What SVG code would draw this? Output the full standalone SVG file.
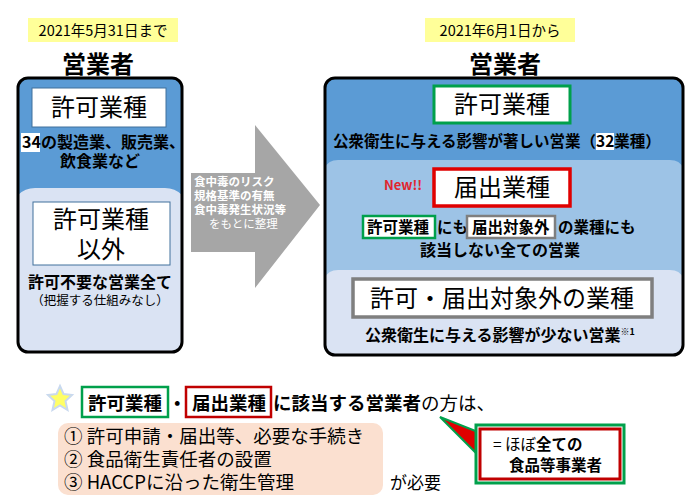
<svg xmlns="http://www.w3.org/2000/svg" width="697" height="500" viewBox="0 0 697 500">
<style>
text{font-family:"Noto Sans CJK JP","Noto Sans",sans-serif;fill:#000}
.b{font-weight:bold}
.big{font-size:24px}
.mid{font-size:16px;font-weight:bold}
.wb{fill:#fff}
</style>
<defs><clipPath id="cl"><rect x="18" y="78" width="164" height="274" rx="10"/></clipPath>
<clipPath id="cr"><rect x="325" y="78" width="358" height="277" rx="10"/></clipPath></defs>
<rect width="697" height="500" fill="#fff"/>
<g id="left">
<rect x="28" y="18" width="150" height="24" fill="#ffff99"/>
<text x="103" y="36" font-size="14.5" text-anchor="middle">2021年5月31日まで</text>
<text x="98" y="73" font-size="24" class="b" text-anchor="middle">営業者</text>
<g clip-path="url(#cl)"><rect x="18" y="78" width="164" height="274" fill="#dae3f3"/>
<path d="M18 78H182V195Q175 188 165 188H35Q25 188 18 195Z" fill="#5b9bd5"/></g>
<rect x="18" y="78" width="164" height="274" rx="10" fill="none" stroke="#000" stroke-width="3"/>
<rect x="32" y="88" width="134" height="39" fill="#fff" stroke="#41719c"/>
<text x="99" y="116" class="big" text-anchor="middle">許可業種</text>
<rect x="21" y="133" width="19" height="19" fill="#fff"/>
<text x="22" y="148" class="mid">34の製造業、販売業、</text>
<text x="100" y="167" class="mid" text-anchor="middle">飲食業など</text>
<rect x="33" y="202" width="137" height="63" fill="#fff" stroke="#41719c"/>
<text x="101" y="228" class="big" text-anchor="middle">許可業種</text>
<text x="101" y="258" class="big" text-anchor="middle">以外</text>
<text x="100" y="288" class="mid" text-anchor="middle">許可不要な営業全て</text>
<text x="100" y="305" font-size="12.5" text-anchor="middle" fill="#333">（把握する仕組みなし）</text>
</g>
<g id="arrow">
<path d="M191 173H255V125L320 205L255 288V252H191Z" fill="#a6a6a6"/>
<text x="194" y="186" font-size="11.5" class="b wb">食中毒のリスク</text>
<text x="194" y="200" font-size="11.5" class="b wb">規格基準の有無</text>
<text x="194" y="214" font-size="11.5" class="b wb">食中毒発生状況等</text>
<text x="209" y="228" font-size="11.5" class="wb">をもとに整理</text>
</g>
<g id="right">
<rect x="425" y="18" width="150" height="24" fill="#ffff99"/>
<text x="500" y="36" font-size="14.5" text-anchor="middle">2021年6月1日から</text>
<text x="505" y="73" font-size="24" class="b" text-anchor="middle">営業者</text>
<g clip-path="url(#cr)"><rect x="325" y="78" width="358" height="277" fill="#dae3f3"/>
<path d="M325 78H683V278Q680 270 670 270H338Q328 270 325 278Z" fill="#9dc3e6"/>
<path d="M325 78H683V168Q680 160 670 160H338Q328 160 325 168Z" fill="#5b9bd5"/></g>
<rect x="325" y="78" width="358" height="277" rx="10" fill="none" stroke="#000" stroke-width="3"/>
<rect x="434" y="86" width="136" height="37" fill="#fff" stroke="#00a04b" stroke-width="3"/>
<text x="502" y="113" class="big" text-anchor="middle">許可業種</text>
<rect x="596" y="133" width="18" height="17" fill="#fff"/>
<text x="333" y="147" class="mid" font-size="15.5" style="font-size:15.5px">公衆衛生に与える影響が著しい営業（32業種）</text>
<text x="384" y="190" font-size="13" font-weight="bold" font-family="Liberation Sans,sans-serif" style="fill:#e0262f">New!!</text>
<rect x="434" y="169" width="136" height="37" fill="#fff" stroke="#e00000" stroke-width="3.5"/>
<text x="502" y="196" class="big" text-anchor="middle">届出業種</text>
<rect x="363" y="216" width="72" height="22" fill="#fff" stroke="#00a04b" stroke-width="2.5"/>
<text x="367" y="233" class="mid" style="font-size:15.5px">許可業種</text>
<text x="437" y="233" class="mid" style="font-size:15.5px">にも</text>
<rect x="467" y="216" width="88" height="22" fill="#fff" stroke="#7f7f7f" stroke-width="2.5"/>
<text x="472" y="233" class="mid" style="font-size:15.5px">届出対象外</text>
<text x="558" y="233" class="mid" style="font-size:15.5px">の業種にも</text>
<text x="500" y="256" class="mid" text-anchor="middle">該当しない全ての営業</text>
<rect x="353" y="279" width="299" height="38" fill="#fff" stroke="#7f7f7f" stroke-width="3.5"/>
<text x="502" y="307" class="big" text-anchor="middle">許可・届出対象外の業種</text>
<text x="500" y="341" class="mid" text-anchor="middle">公衆衛生に与える影響が少ない営業<tspan font-size="9" dy="-6">※1</tspan></text>
</g>
<g id="bottom">
<path d="M60 386L63.5 394L72 395L65.5 401L67.5 410L60 405.5L52.5 410L54.5 401L48 395L56.5 394Z" fill="#ffff66" stroke="#c9d9ef" stroke-width="2"/>
<rect x="82" y="387" width="86" height="30" fill="none" stroke="#00a04b" stroke-width="2.5"/>
<text x="88" y="410" font-size="18.5" class="b">許可業種</text>
<text x="168" y="410" font-size="18.5" class="b">・</text>
<rect x="186" y="387" width="85" height="30" fill="none" stroke="#c00000" stroke-width="2.5"/>
<text x="192" y="410" font-size="18.5" class="b">届出業種</text>
<text x="273" y="410" font-size="18.5"><tspan class="b">に該当する営業者</tspan>の方は、</text>
<rect x="58" y="423" width="325" height="72" rx="10" fill="#fbe0d0"/>
<text x="64" y="443" font-size="18.5">① 許可申請・届出等、必要な手続き</text>
<text x="64" y="466" font-size="18.5">② 食品衛生責任者の設置</text>
<text x="64" y="489" font-size="18.5">③ HACCPに沿った衛生管理</text>
<text x="390" y="489" font-size="17">が必要</text>
<path d="M478 432L440 417L478 455Z" fill="#e00000" stroke="#00a04b" stroke-width="2"/>
<rect x="476" y="425" width="148" height="58" fill="#fff" stroke="#00a04b" stroke-width="3"/>
<rect x="480" y="429" width="140" height="50" fill="none" stroke="#c00000" stroke-width="3"/>
<text x="493" y="450" font-size="15.5">= ほぼ<tspan class="b">全ての</tspan></text>
<text x="509" y="471" font-size="15.5" class="b">食品等事業者</text>
</g>
</svg>
